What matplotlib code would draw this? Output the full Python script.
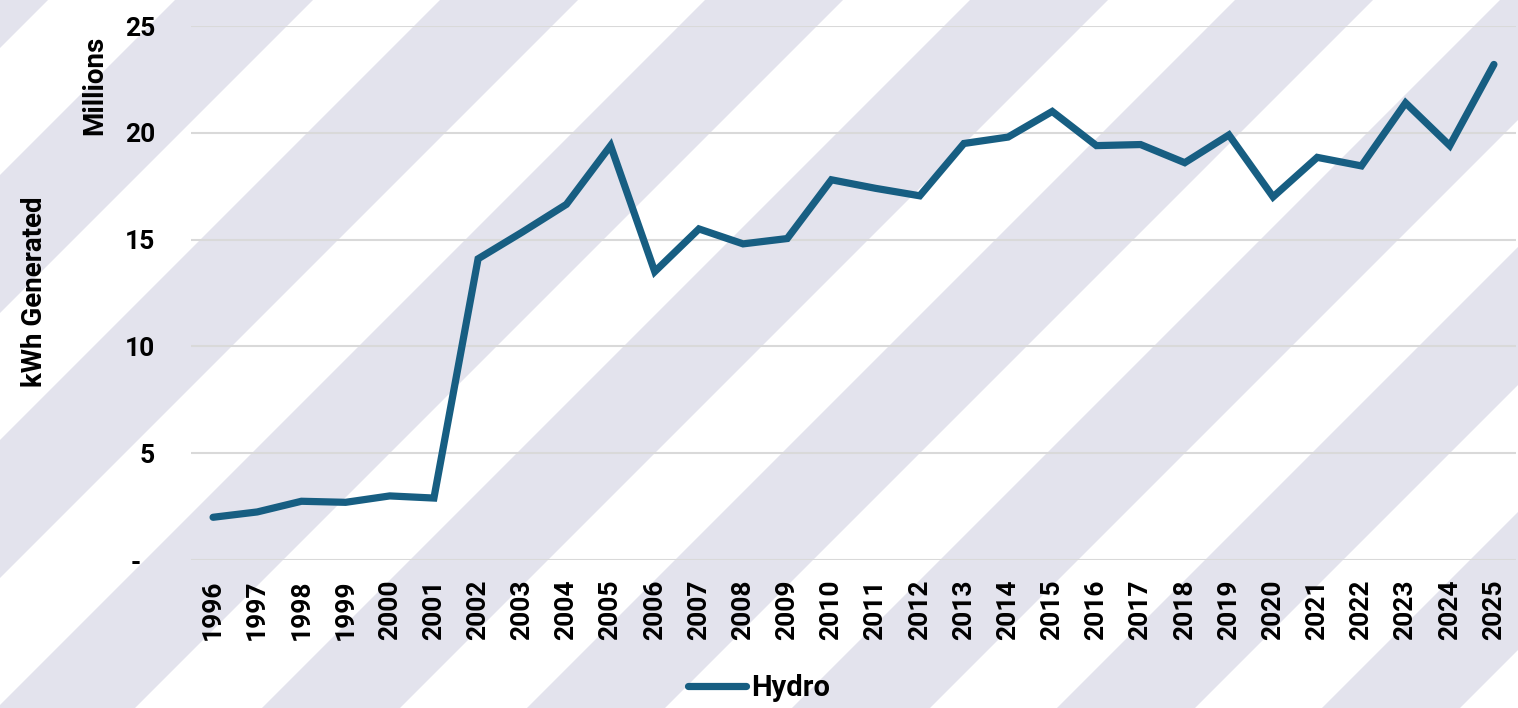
import matplotlib.pyplot as plt
from matplotlib.patches import Polygon

years = [str(y) for y in range(1996, 2026)]
hydro = [2.0, 2.25, 2.75, 2.7, 3.0, 2.9, 14.1, 15.35, 16.65, 19.4,
         13.5, 15.5, 14.8, 15.05, 17.8, 17.4, 17.05, 19.5, 19.8, 21.0,
         19.4, 19.45, 18.6, 19.9, 17.0, 18.85, 18.45, 21.4, 19.4, 23.2]
y_ticks = [0, 5, 10, 15, 20, 25]
y_tick_labels = ["-  ", "5", "10", "15", "20", "25"]

line_color = "#175e82"
stripe_color = "#e3e3ed"
grid_color = "#d9d9d9"

plt.rcParams['font.family'] = ['Roboto', 'DejaVu Sans']
plt.rcParams['font.weight'] = 'bold'

W, H = 1518, 708
fig = plt.figure(figsize=(W / 100, H / 100), dpi=100)

# background stripes, drawn in pixel coords on a full-figure axes
bg = fig.add_axes([0, 0, 1, 1])
bg.set_xlim(0, W)
bg.set_ylim(H, 0)
bg.axis("off")
period = 265
for k in range(-4, 10):
    a = -90 + period * k
    b = 48 + period * k
    bg.add_patch(Polygon([(a, 0), (b, 0), (b - H, H), (a - H, H)],
                         closed=True, facecolor=stripe_color, edgecolor="none"))

ax = fig.add_axes([191 / W, 1 - 560 / H, (1516 - 191) / W, (560 - 26) / H])
ax.set_facecolor("none")
x = list(range(len(years)))
ax.plot(x, hydro, color=line_color, lw=5.2, solid_capstyle="round",
        solid_joinstyle="miter", label="Hydro", zorder=3)

ax.set_xlim(-0.5, len(years) - 0.5)
ax.set_ylim(0, 25)
ax.set_yticks(y_ticks)
ax.set_yticklabels(y_tick_labels, fontweight="bold")
ax.set_xticks(x)
ax.set_xticklabels(years, rotation=90, fontweight="bold")
ax.tick_params(axis="both", length=0, labelsize=19)
ax.tick_params(axis="y", pad=26)
ax.tick_params(axis="x", pad=14)
for s in ax.spines.values():
    s.set_visible(False)
ax.grid(axis="y", color=grid_color, lw=1.5)
ax.set_axisbelow(True)

fig.text(35 / W, 1 - 292 / H, "kWh Generated", rotation=90, ha="center",
         va="center", fontsize=20, fontweight="bold")
fig.text(95 / W, 1 - 85 / H, "Millions", rotation=90, ha="center",
         va="center", fontsize=20, fontweight="bold")

leg = ax.legend(loc="center", bbox_to_anchor=(759 / W, 1 - 688 / H),
                bbox_transform=fig.transFigure, frameon=False,
                prop={"size": 21, "weight": "bold"},
                handlelength=2.0, handletextpad=0.15)

fig.savefig("out.png", dpi=100)
